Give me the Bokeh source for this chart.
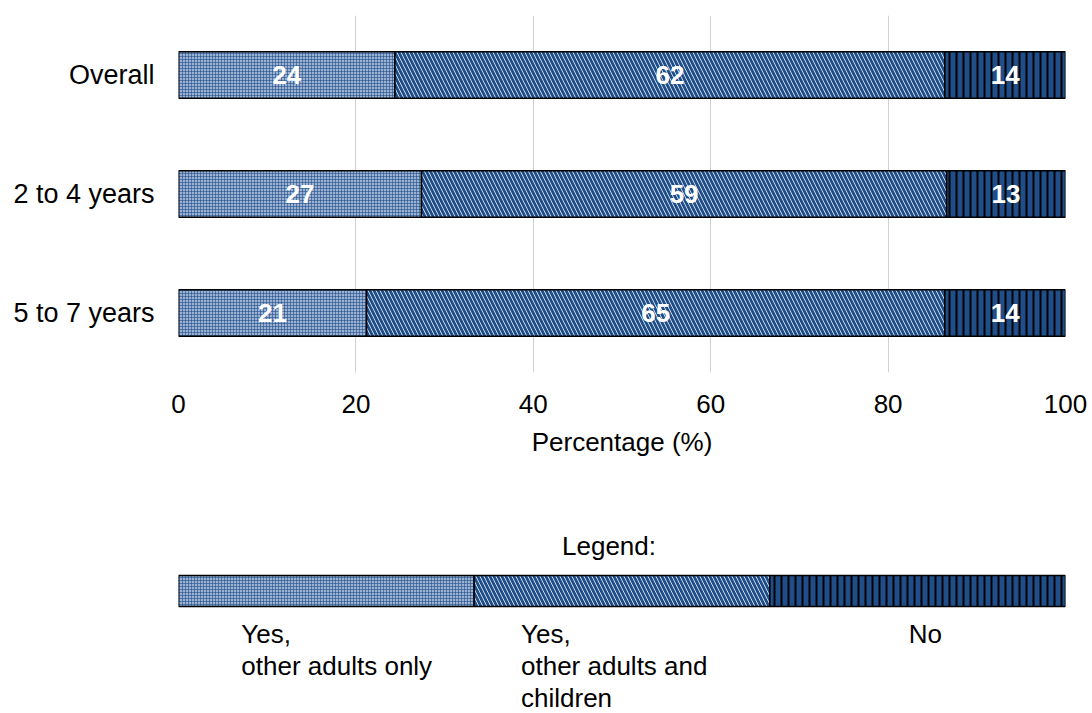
from bokeh.plotting import figure
from bokeh.models import ColumnDataSource, FactorRange, Range1d, FixedTicker
from bokeh.layouts import column
from bokeh.embed import file_html
from bokeh.resources import INLINE
from bokeh.core.properties import value

# ---- data ----
categories = ["Overall", "2 to 4 years", "5 to 7 years"]
series_labels = ["Yes,\nother adults only", "Yes,\nother adults and\nchildren", "No"]
other_adults_only = [24.4, 27.4, 21.2]
adults_and_children = [62.0, 59.2, 65.2]
no_others = [13.6, 13.4, 13.6]
x_ticks = [0, 20, 40, 60, 80, 100]
legend_title = "Legend:"
x_title = "Percentage (%)"

series = [other_adults_only, adults_and_children, no_others]

# ---- styles ----
FONT = "Liberation Sans"
FS = "26px"
NAVY = "#1f4e89"
styles = [
    dict(fill_color="#9db2d3", hatch_pattern="cross", hatch_color=NAVY,
         hatch_scale=3, hatch_weight=1, hatch_alpha=0.6),
    dict(fill_color=NAVY, hatch_pattern="left_diagonal_line", hatch_color="#c9d7ea",
         hatch_scale=8, hatch_weight=1),
    dict(fill_color=NAVY, hatch_pattern="vertical_line", hatch_color="#000000",
         hatch_scale=7, hatch_weight=2),
]

p = figure(width=1092, height=470,
           y_range=FactorRange(*reversed(categories)),
           x_range=Range1d(0, 100),
           output_backend="svg", toolbar_location=None,
           min_border_left=178, min_border_right=27,
           min_border_top=15, min_border_bottom=98)

left = [0.0] * len(categories)
for vals, st in zip(series, styles):
    right = [l + v for l, v in zip(left, vals)]
    src = ColumnDataSource(dict(y=categories, left=left, right=right,
                                mid=[(l + r) / 2 for l, r in zip(left, right)],
                                lab=[str(int(round(v))) for v in vals]))
    p.hbar(y="y", left="left", right="right", height=0.39, source=src,
           line_color="black", line_width=1.5, **st)
    p.text(x="mid", y="y", text="lab", source=src, text_color="white",
           text_font=value(FONT), text_font_size=FS, text_font_style="bold",
           text_align="center", text_baseline="middle")
    left = right

p.xaxis.ticker = FixedTicker(ticks=x_ticks)
p.xaxis.axis_label = x_title
p.xaxis.axis_label_text_font = FONT
p.xaxis.axis_label_text_font_size = FS
p.xaxis.axis_label_text_font_style = "normal"
p.xaxis.axis_label_text_color = "black"
p.xaxis.axis_label_standoff = 11
p.xaxis.major_label_standoff = 22
for ax in (p.xaxis, p.yaxis):
    ax.axis_line_color = None
    ax.major_tick_line_color = None
    ax.minor_tick_line_color = None
    ax.major_tick_out = 0
    ax.major_tick_in = 0
    ax.major_label_text_font = FONT
    ax.major_label_text_font_size = FS
    ax.major_label_text_color = "black"
p.yaxis.major_label_text_font_size = "27px"
p.yaxis.major_label_standoff = 24
p.xgrid.grid_line_color = "#d0d0d0"
p.ygrid.grid_line_color = None
p.outline_line_color = None

# ---- legend figure ----
label_x_offsets = [-85, -101, -9]
q = figure(width=1092, height=243, x_range=Range1d(0, 3), y_range=Range1d(243, 0),
           output_backend="svg", toolbar_location=None,
           min_border=0, min_border_left=177, min_border_right=17)
q.axis.visible = False
q.grid.grid_line_color = None
q.outline_line_color = None
for i, st in enumerate(styles):
    q.quad(left=[i], right=[i + 1], bottom=[136], top=[105],
           line_color="black", line_width=1.5, **st)
q.text(x=[1.5], y=[75], text=[legend_title], text_font=value(FONT),
       text_font_size=FS, text_align="center", text_baseline="middle",
       x_offset=-13)
lsrc = ColumnDataSource(dict(x=[i + 0.5 for i in range(3)], y=[148] * 3,
                             t=series_labels, xo=label_x_offsets))
q.text(x="x", y="y", text="t", x_offset="xo", source=lsrc, text_font=value(FONT),
       text_font_size=FS, text_align="left", text_baseline="top",
       text_line_height=1.07)

layout = column(p, q, spacing=0)
open("out.html", "w").write(file_html(layout, INLINE))
